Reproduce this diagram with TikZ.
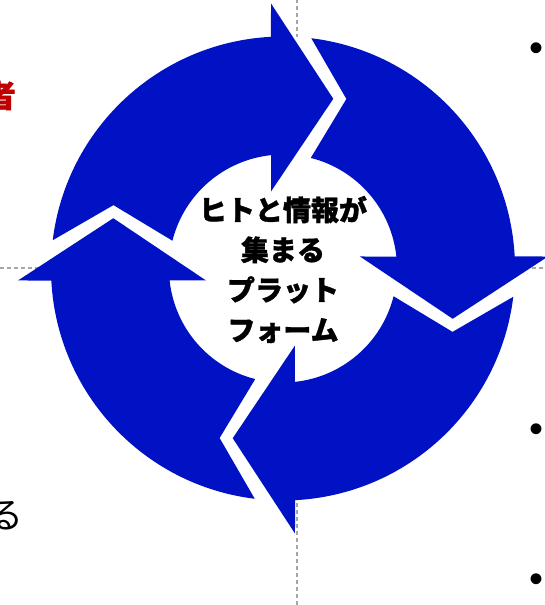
\documentclass[tikz,border=0pt]{standalone}
\usepackage{fontspec}
\newfontfamily\jpfont[BoldFeatures={FakeBold=1.2}]{Noto Sans CJK JP}
\newfontfamily\bulletfont{Liberation Sans}
\usetikzlibrary{positioning}
\definecolor{cycleblue}{RGB}{0,18,196}
\definecolor{notered}{RGB}{192,0,0}

\begin{document}
\begin{tikzpicture}[x=1pt,y=1pt,node distance=150pt,
    guide/.style={draw=black!35,line width=1.3pt,dash pattern=on 4pt off 3pt},
    cyclearrow/.style={fill=cycleblue},
    bullet/.style={font=\bulletfont\fontsize{40}{40}\selectfont,inner sep=0pt}]
  \useasboundingbox (0,0) rectangle (545,605);
  \coordinate (C) at (283,336.5);

  % guide lines, hidden behind the cycle
  \draw[guide] (297,0) -- (297,605);
  \draw[guide] (0,337) -- (545,337);
  \fill[white] (C) circle[radius=232pt];

  % the four arrows of the cycle
  \foreach \a in {0,-90,-180,-270}
    \fill[cyclearrow,shift={(C)}]
      (\a+173:232pt) arc[start angle=\a+173,end angle=\a+92.98,radius=232pt]
      -- (\a+92.59:265.3pt) -- (\a+73.5:177pt) -- (\a+98.86:77.9pt)
      -- (\a+96.04:114pt) arc[start angle=\a+96.04,end angle=\a+165.9,radius=114pt]
      -- (\a+159.5:181pt) -- cycle;

  \node[font=\jpfont\bfseries\fontsize{28}{40}\selectfont,align=center]
    (hub) at ([yshift=-1pt]C) {ヒトと情報が\\集まる\\プラット\\フォーム};

  \node[font=\jpfont\bfseries\fontsize{31}{31}\selectfont,text=notered,anchor=east,inner sep=0pt]
    (topnote) at (16,509.5) {者};
  \node[font=\jpfont\fontsize{36}{36}\selectfont,anchor=east,inner sep=0pt]
    (lownote) at (24,89) {る};

  \node[bullet] (b1) at (536,553) {•};
  \node[bullet] (b2) at (536,172) {•};
  \node[bullet] (b3) [below of=b2] {•};
\end{tikzpicture}
\end{document}
